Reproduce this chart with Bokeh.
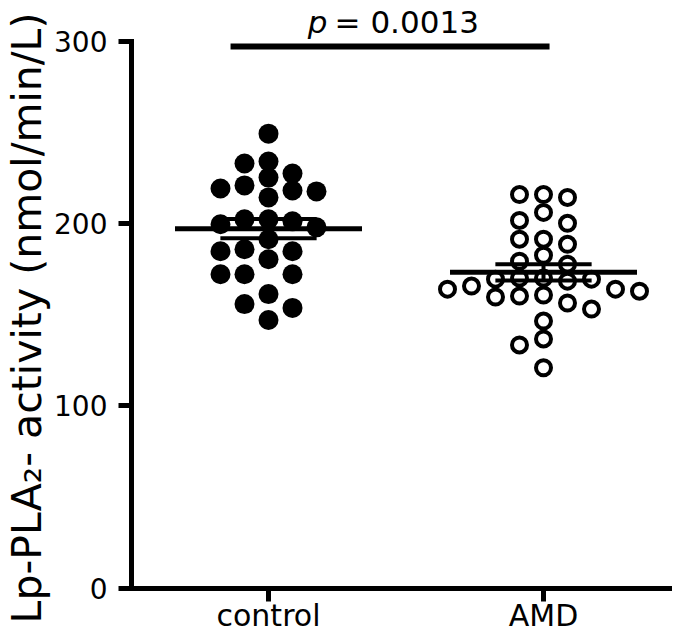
import numpy as np
from bokeh.plotting import figure
from bokeh.models import Range1d, FixedTicker
from bokeh.core.properties import value
from bokeh.embed import file_html
from bokeh.resources import INLINE

# ---------------- data ----------------
categories = ["control", "AMD"]
control_values = [249.2, 233.9, 232.8, 227.3, 225.1, 220.8, 219.1, 218.0, 217.5, 214.2,
                  202.2, 202.2, 201.1, 199.5, 197.8, 191.3, 185.8, 184.7, 184.7, 180.3,
                  172.1, 172.1, 172.1, 161.2, 155.7, 153.6, 147.0]
amd_values = [215.8, 215.8, 214.2, 206.0, 201.6, 200.0, 191.3, 191.3, 188.5, 182.5,
              179.2, 177.6, 170.0, 170.0, 169.4, 169.4, 168.3, 165.6, 163.9, 163.9,
              162.8, 160.7, 160.1, 159.6, 156.3, 153.0, 146.4, 136.6, 133.3, 120.8]
y_ticks = [0, 100, 200, 300]
y_label = "Lp-PLA\u2082- activity (nmol/min/L)"
p_symbol = "p"
p_value_text = "= 0.0013"

# ---------------- layout (pixels) ----------------
W, H = 672, 635
AXIS_X = 131.0          # y-axis position
Y0_PX, Y300_PX = 587.5, 40.5   # pixel rows of y = 0 and y = 300
CAT1_PX = 268.0         # pixel column of the first category
PX_PER_CAT = 275.0
y_px = (Y0_PX - Y300_PX) / 300.0
y_start = -(H - Y0_PX) / y_px
y_end = 300.0 + Y300_PX / y_px
x_start = 1 - (CAT1_PX - AXIS_X) / PX_PER_CAT
x_end = x_start + (W - AXIS_X) / PX_PER_CAT
FONT = "DejaVu Sans"


def swarm(values, center, step_px=24.0, min_dist_px=16.0):
    """Simple column beeswarm: place points in discrete columns so that
    points in the same column do not overlap too much vertically."""
    vals = np.asarray(values, dtype=float)
    order = np.argsort(-vals, kind="stable")
    placed = []
    cols = np.zeros(len(vals))
    cands = [0]
    for k in range(1, 8):
        cands += [-k, k]
    for i in order:
        ypx = vals[i] * y_px
        for c in cands:
            if all(not (pc == c and abs(ypx - py) < min_dist_px) for pc, py in placed):
                break
        placed.append((c, ypx))
        cols[i] = c
    return center + cols * step_px / PX_PER_CAT


p = figure(width=W, height=H, output_backend="svg", toolbar_location=None,
           x_range=Range1d(x_start, x_end), y_range=Range1d(y_start, y_end),
           min_border_left=int(AXIS_X), min_border_right=0,
           min_border_top=0, min_border_bottom=0)
p.outline_line_color = None
p.xgrid.visible = False
p.ygrid.visible = False
p.background_fill_color = "white"
p.border_fill_color = "white"

groups = [(1.0, control_values, "black", 20, 0), (2.0, amd_values, "white", 15, 4)]
for center, vals, fill, size, lw in groups:
    xs = swarm(vals, center)
    if lw == 0:
        p.scatter(xs, vals, marker="circle", size=size, fill_color=fill, line_color=None)
    else:
        p.scatter(xs, vals, marker="circle", size=size, fill_color=fill,
                  line_color="black", line_width=lw)

# mean and SEM lines
for center, vals, _, _, _ in groups:
    v = np.asarray(vals)
    m = v.mean()
    sem = v.std(ddof=1) / np.sqrt(len(v))
    p.segment(x0=[center, center - 0.175, center - 0.175], y0=[m - sem, m + sem, m - sem],
              x1=[center, center + 0.175, center + 0.175], y1=[m + sem, m + sem, m - sem],
              line_color="black", line_width=4)
    p.segment(x0=[center - 0.34], y0=[m], x1=[center + 0.34], y1=[m],
              line_color="black", line_width=5)

# significance bar and p value
bar_x0, bar_x1, bar_y = 1.0 - 0.138, 2.0 + 0.022, 297.0
p.segment(x0=[bar_x0], y0=[bar_y], x1=[bar_x1], y1=[bar_y], line_color="black",
          line_width=6, line_cap="butt")
mid = (bar_x0 + bar_x1) / 2
text_y = 300.0 + 19.0 / y_px
p.text(x=[mid], y=[text_y], text=[p_symbol], text_font=value(FONT),
       text_font_style=value("italic"), text_font_size=value("31px"),
       text_align=value("right"), text_baseline=value("alphabetic"),
       x_offset=-62.5, text_color="black")
p.text(x=[mid], y=[text_y], text=[p_value_text], text_font=value(FONT),
       text_font_style=value("normal"), text_font_size=value("31px"),
       text_align=value("left"), text_baseline=value("alphabetic"),
       x_offset=-55.5, text_color="black")

# axes
for ax in (p.xaxis, p.yaxis):
    ax.axis_line_width = 5
    ax.axis_line_color = "black"
    ax.axis_line_cap = "square"
    ax.major_tick_line_width = 5
    ax.major_tick_line_color = "black"
    ax.major_tick_out = 13
    ax.major_tick_in = 0
    ax.minor_tick_out = 0
    ax.minor_tick_in = 0
    ax.major_label_text_font = FONT
    ax.major_label_text_color = "black"

p.xaxis.fixed_location = 0
p.xaxis.ticker = FixedTicker(ticks=[1, 2])
p.xaxis.major_label_overrides = {1: categories[0], 2: categories[1]}
p.xaxis.major_label_text_font_size = "30px"
p.xaxis.major_label_standoff = -3

p.yaxis.bounds = (0, 300)
p.yaxis.ticker = FixedTicker(ticks=y_ticks)
p.yaxis.major_label_text_font_size = "28px"
p.yaxis.major_label_standoff = 11
p.yaxis.axis_label = y_label
p.yaxis.axis_label_text_font = FONT
p.yaxis.axis_label_text_font_size = "41px"
p.yaxis.axis_label_text_font_style = "normal"
p.yaxis.axis_label_text_color = "black"
p.yaxis.axis_label_standoff = 0

open("out.html", "w").write(file_html(p, INLINE))
